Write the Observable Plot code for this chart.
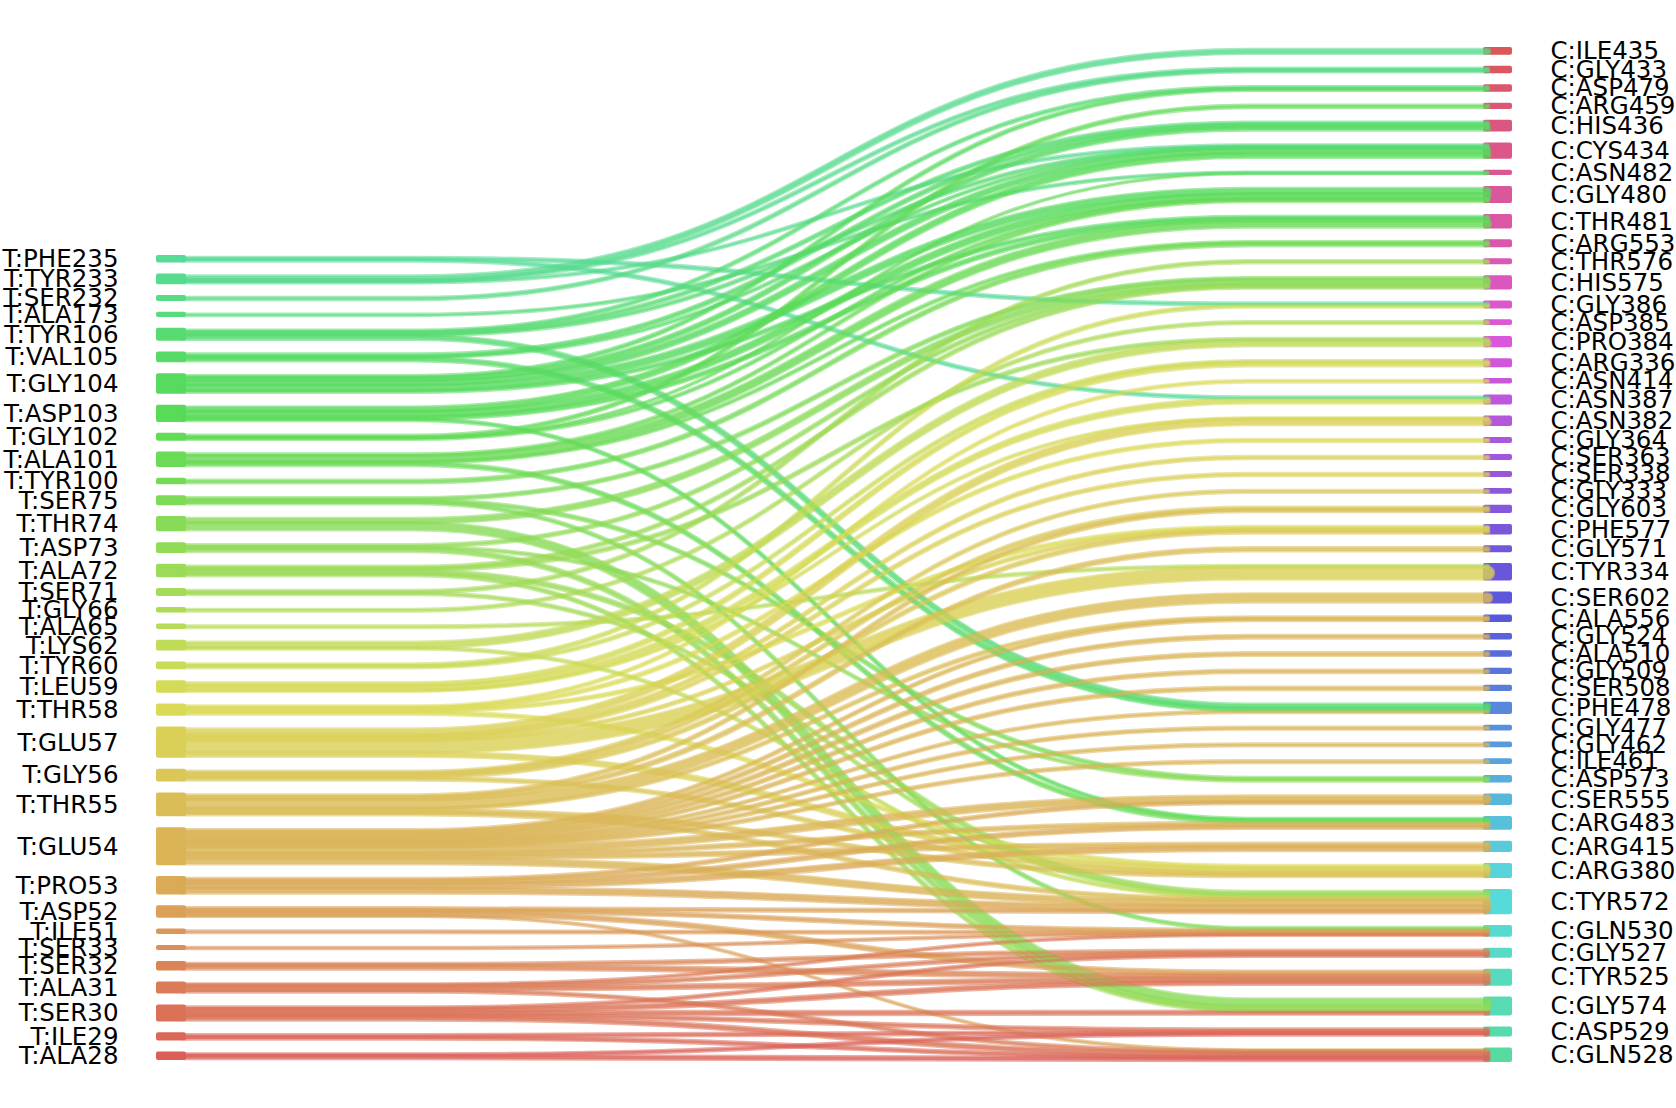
<!DOCTYPE html>
<html>
<head>
<meta charset="utf-8">
<script src="https://cdn.jsdelivr.net/npm/d3@7"></script>
<script src="https://cdn.jsdelivr.net/npm/@observablehq/plot@0.6"></script>
<style>
  html, body { margin: 0; padding: 0; background: #fff; overflow: hidden; }
  #chart { width: 1676px; height: 1108px; }
</style>
</head>
<body>
<div id="chart"></div>
<script>
// ---------------- data ----------------
const leftNodes = ["T:PHE235","T:TYR233","T:SER232","T:ALA173","T:TYR106","T:VAL105","T:GLY104","T:ASP103","T:GLY102","T:ALA101","T:TYR100","T:SER75","T:THR74","T:ASP73","T:ALA72","T:SER71","T:GLY66","T:ALA65","T:LYS62","T:TYR60","T:LEU59","T:THR58","T:GLU57","T:GLY56","T:THR55","T:GLU54","T:PRO53","T:ASP52","T:ILE51","T:SER33","T:SER32","T:ALA31","T:SER30","T:ILE29","T:ALA28"];

const rightNodes = ["C:ILE435","C:GLY433","C:ASP479","C:ARG459","C:HIS436","C:CYS434","C:ASN482","C:GLY480","C:THR481","C:ARG553","C:THR576","C:HIS575","C:GLY386","C:ASP385","C:PRO384","C:ARG336","C:ASN414","C:ASN387","C:ASN382","C:GLY364","C:SER363","C:SER338","C:GLY333","C:GLY603","C:PHE577","C:GLY571","C:TYR334","C:SER602","C:ALA556","C:GLY524","C:ALA510","C:GLY509","C:SER508","C:PHE478","C:GLY477","C:GLY462","C:ILE461","C:ASP573","C:SER555","C:ARG483","C:ARG415","C:ARG380","C:TYR572","C:GLN530","C:GLY527","C:TYR525","C:GLY574","C:ASP529","C:GLN528"];

const linkSource = [
 "T:PHE235","T:PHE235",
 "T:TYR233","T:TYR233","T:TYR233",
 "T:SER232","T:ALA173",
 "T:TYR106","T:TYR106","T:TYR106","T:TYR106",
 "T:VAL105","T:VAL105","T:VAL105",
 "T:GLY104","T:GLY104","T:GLY104","T:GLY104","T:GLY104",
 "T:ASP103","T:ASP103","T:ASP103","T:ASP103",
 "T:GLY102","T:GLY102","T:GLY102",
 "T:ALA101","T:ALA101","T:ALA101","T:ALA101",
 "T:TYR100",
 "T:SER75","T:SER75","T:SER75",
 "T:THR74","T:THR74",
 "T:ASP73","T:ASP73","T:ASP73",
 "T:ALA72","T:ALA72","T:ALA72","T:ALA72",
 "T:SER71","T:SER71",
 "T:GLY66","T:ALA65",
 "T:LYS62","T:LYS62",
 "T:TYR60","T:TYR60",
 "T:LEU59","T:LEU59","T:LEU59",
 "T:THR58","T:THR58","T:THR58","T:THR58",
 "T:GLU57","T:GLU57","T:GLU57","T:GLU57","T:GLU57","T:GLU57",
 "T:GLY56","T:GLY56","T:GLY56","T:GLY56",
 "T:THR55","T:THR55","T:THR55","T:THR55","T:THR55","T:THR55",
 "T:GLU54","T:GLU54","T:GLU54","T:GLU54","T:GLU54","T:GLU54","T:GLU54","T:GLU54","T:GLU54","T:GLU54","T:GLU54","T:GLU54","T:GLU54",
 "T:PRO53","T:PRO53","T:PRO53","T:PRO53",
 "T:ASP52","T:ASP52","T:ASP52","T:ASP52",
 "T:ILE51","T:SER33",
 "T:SER32","T:SER32",
 "T:ALA31","T:ALA31","T:ALA31","T:ALA31",
 "T:SER30","T:SER30","T:SER30","T:SER30","T:SER30",
 "T:ILE29","T:ILE29",
 "T:ALA28","T:ALA28"
];

const linkTarget = [
 "C:GLY386","C:ASN387",
 "C:ILE435","C:GLY433","C:CYS434",
 "C:GLY433","C:ASN482",
 "C:ASP479","C:HIS436","C:CYS434","C:PHE478",
 "C:HIS436","C:CYS434","C:PHE478",
 "C:ASP479","C:HIS436","C:CYS434","C:GLY480","C:THR481",
 "C:CYS434","C:GLY480","C:THR481","C:ARG483",
 "C:ARG459","C:ASN482","C:GLY480",
 "C:GLY480","C:THR481","C:ARG553","C:ARG483",
 "C:ARG553",
 "C:HIS575","C:ASP573","C:GLN530",
 "C:HIS575","C:GLY574",
 "C:HIS575","C:ASP573","C:GLY574",
 "C:HIS575","C:PRO384","C:TYR572","C:GLY574",
 "C:THR576","C:TYR572",
 "C:ASP385","C:TYR334",
 "C:PRO384","C:TYR572",
 "C:GLY386","C:ARG336",
 "C:ARG336","C:ASN387","C:ASN382",
 "C:ASN414","C:GLY364","C:PHE577","C:ARG380",
 "C:ASN382","C:SER363","C:SER338","C:PHE577","C:TYR334","C:ARG380",
 "C:GLY333","C:GLY603","C:PHE577","C:ARG380",
 "C:GLY603","C:GLY571","C:SER602","C:ALA556","C:ARG380","C:TYR572",
 "C:ALA556","C:GLY524","C:ALA510","C:GLY509","C:SER508","C:PHE478","C:GLY477","C:GLY462","C:ILE461","C:SER555","C:ARG483","C:ARG415","C:TYR572",
 "C:ARG483","C:SER555","C:ARG415","C:TYR572",
 "C:TYR572","C:GLN530","C:TYR525","C:GLN528",
 "C:GLN530","C:GLN530",
 "C:GLY527","C:TYR525",
 "C:GLN530","C:GLY527","C:TYR525","C:GLN528",
 "C:GLY527","C:TYR525","C:GLY574","C:ASP529","C:GLN528",
 "C:ASP529","C:GLN528",
 "C:ASP529","C:GLN528"
];

const linkValue = [
 1.7,1.7,
 3.7,1.6,1.1,
 1.8,1.0,
 1.6,2.0,1.5,3.4,
 2.4,1.0,3.0,
 1.8,3.0,4.0,5.0,2.0,
 4.1,4.6,2.5,1.5,
 2.0,0.4,1.3,
 1.5,5.5,1.3,2.5,
 2.4,
 2.0,2.0,1.7,
 4.0,6.7,
 2.0,1.4,3.0,
 2.0,2.0,3.0,2.0,
 2.0,1.7,
 1.6,1.4,
 5.0,1.4,
 2.0,1.7,
 3.0,4.0,1.1,
 1.4,2.0,2.0,2.3,
 5.2,2.0,2.0,1.8,11.4,3.7,
 1.7,2.1,2.4,2.2,
 2.0,2.7,7.7,1.8,2.5,2.3,
 1.6,2.4,2.4,2.0,2.0,1.3,1.7,1.7,1.7,5.2,2.5,3.0,5.0,
 3.0,2.0,3.9,4.8,
 2.0,2.3,3.0,0.7,
 1.4,1.0,
 2.0,3.4,
 1.0,2.0,3.0,1.7,
 1.7,3.0,2.7,2.0,3.0,
 2.0,2.0,
 1.7,2.7
];

// ---------------- layout (sankey-style stacking) ----------------
const pad = 14.3;                 // gap between right-column nodes, in value units
const yTop = 49, yBottom = 1060;  // pixel extent of the right column
const leftTop = 257, leftBottom = 1058; // pixel extent of the left column

const nodes = new Map();
leftNodes.forEach((n, i) => nodes.set(n, {name: n, side: 0, rank: i, out: [], inn: []}));
rightNodes.forEach((n, i) => nodes.set(n, {name: n, side: 1, rank: i, out: [], inn: []}));
const links = linkSource.map((s, i) => ({id: i, source: nodes.get(s), target: nodes.get(linkTarget[i]), value: linkValue[i]}));
for (const l of links) { l.source.out.push(l); l.target.inn.push(l); }
for (const n of nodes.values()) n.value = Math.max(d3.sum(n.out, l => l.value), d3.sum(n.inn, l => l.value));

function stack(list, gap, start) {
  let y = start;
  for (const name of list) { const n = nodes.get(name); n.y0 = y; n.y1 = y + n.value; y = n.y1 + gap; }
  return y - gap;
}
const sumR = d3.sum(rightNodes, n => nodes.get(n).value);
const sumL = d3.sum(leftNodes, n => nodes.get(n).value);
const span = sumR + pad * (rightNodes.length - 1);
const k = (yBottom - yTop) / span; // px per value unit
stack(rightNodes, pad, 0);
const leftStart = (leftTop - yTop) / k;
const leftEnd = (leftBottom - yTop) / k;
const leftPad = (leftEnd - leftStart - sumL) / (leftNodes.length - 1);
stack(leftNodes, leftPad, leftStart);

for (const n of nodes.values()) {
  let y = n.y0;
  n.out.sort((a, b) => a.target.y0 - b.target.y0).forEach(l => { l.ys = y + l.value / 2; y += l.value; });
  y = n.y0;
  n.inn.sort((a, b) => a.source.y0 - b.source.y0).forEach(l => { l.yt = y + l.value / 2; y += l.value; });
}

// colours: hls palette around the wheel, bottom-left -> top-left -> bottom-right -> top-right
const colorOrder = [...leftNodes].reverse().concat([...rightNodes].reverse());
const palette = colorOrder.map((_, i) => d3.hsl(((0.01 + i / colorOrder.length) % 1) * 360, 0.65, 0.6).formatHex());

// column geometry on a 0..1 x scale
const col = {left0: 0, left1: 0.0192, bend0: 0.19, bend1: 0.805, right0: 0.9815, right1: 1};

const nodeList = [...nodes.values()];
const linkPoints = links.flatMap(l => [
  {id: l.id, src: l.source.name, value: l.value, x: col.left1, y: l.ys},
  {id: l.id, src: l.source.name, value: l.value, x: col.bend0, y: l.ys},
  {id: l.id, src: l.source.name, value: l.value, x: col.bend1, y: l.yt},
  {id: l.id, src: l.source.name, value: l.value, x: col.right0 + 0.0015, y: l.yt}
]);

const chart = Plot.plot({
  width: 1676,
  height: 1108,
  margin: 0,
  style: {background: "white"},
  x: {domain: [0, 1], range: [158, 1510], axis: null},
  y: {domain: [0, span], range: [yTop, yBottom], axis: null},
  color: {type: "ordinal", domain: colorOrder, range: palette},
  marks: [
    Plot.rect(nodeList, {
      x1: d => d.side ? col.right0 : col.left0,
      x2: d => d.side ? col.right1 : col.left1,
      y1: "y0", y2: "y1",
      fill: "name", stroke: "name", strokeWidth: 4, strokeLinejoin: "round"
    }),
    Plot.line(linkPoints, {
      x: "x", y: "y", z: "id", stroke: "src", curve: "bump-x",
      strokeWidth: d => d.value * k + 3.5, strokeOpacity: 0.55
    }),
    Plot.line(linkPoints, {
      x: "x", y: "y", z: "id", stroke: "src", curve: "bump-x",
      strokeWidth: d => d.value * k + 0.6, strokeOpacity: 0.6
    }),
    Plot.text(nodeList.filter(d => d.side === 0), {
      x: () => col.left0, y: d => (d.y0 + d.y1) / 2, text: "name",
      textAnchor: "end", dx: -40, fontSize: 24.5, fontFamily: "DejaVu Sans", fill: "black"
    }),
    Plot.text(nodeList.filter(d => d.side === 1), {
      x: () => col.right1, y: d => (d.y0 + d.y1) / 2, text: "name",
      textAnchor: "start", dx: 40, fontSize: 24.5, fontFamily: "DejaVu Sans", fill: "black"
    })
  ]
});
document.getElementById("chart").appendChild(chart);
</script>
</body>
</html>
